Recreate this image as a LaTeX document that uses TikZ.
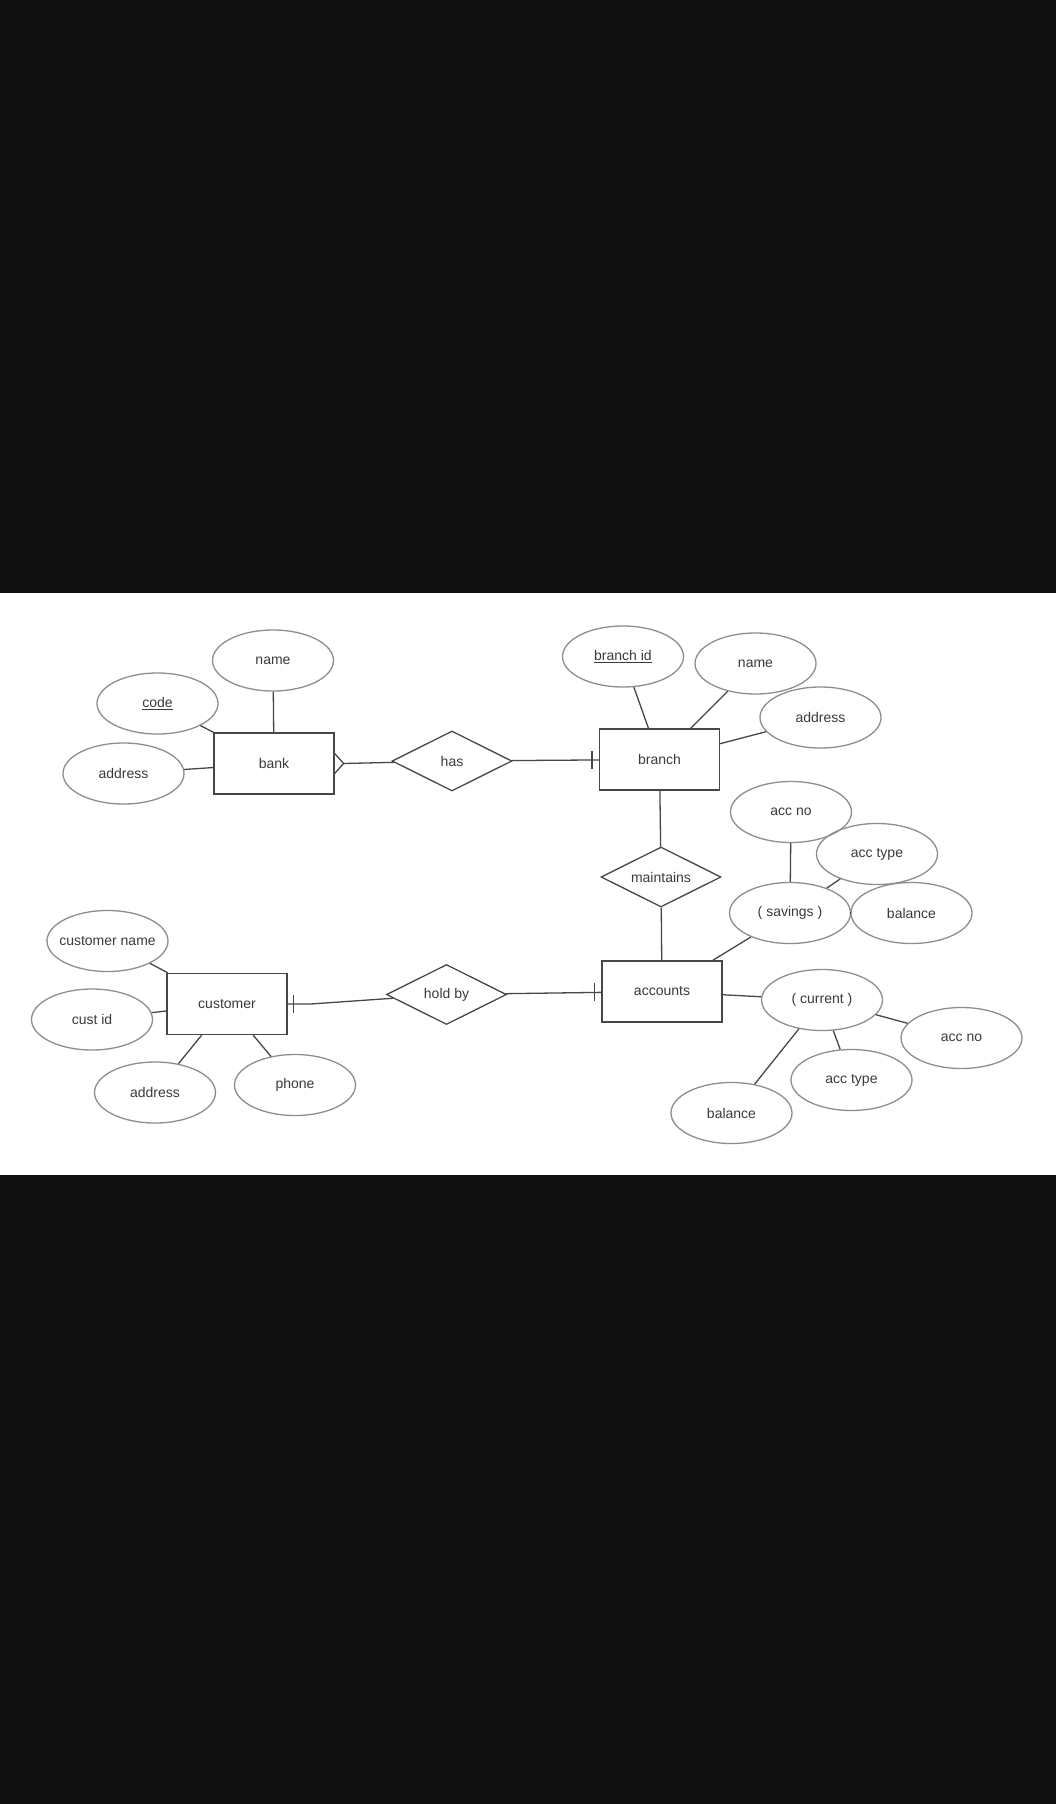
\documentclass[tikz,border=0pt]{standalone}
\usepackage{fontspec}
\setsansfont{Liberation Sans}
\usetikzlibrary{positioning, shapes.geometric, calc}
\definecolor{backdrop}{HTML}{0f0f0f}
\definecolor{ink}{HTML}{3a3a3a}
\definecolor{rim}{HTML}{8e8e8e}
\definecolor{wire}{HTML}{474747}

\tikzset{
  entity/.style={rectangle, draw=wire, line width=1.3pt, minimum width=120, minimum height=61, inner sep=0},
  attr/.style={ellipse, draw=rim, line width=1.3pt, minimum width=121, minimum height=61, inner sep=0},
  rel/.style={diamond, draw=wire, line width=1.3pt, minimum width=120, minimum height=60, aspect=2, inner sep=0},
  link/.style={draw=wire, line width=1.3pt}
}

\begin{document}
\begin{tikzpicture}[x=1pt, y=-1pt, font=\sffamily\fontsize{14}{16}\selectfont, text=ink]
  % page and white sheet
  \fill[backdrop] (0,0) rectangle (1056,1804);
  \fill[white] (0,593) rectangle (1056,1175);
  \useasboundingbox (0,0) rectangle (1056,1804);

  % bank
  \node[entity] (bank) at (274,763.5) {bank};
  \node[attr] (bankname) at (273,660.5) {name};
  \node[attr] (bankcode) at (157.5,703.5) {\underline{code}};
  \node[attr] (bankaddr) at (123.5,773.5) {address};
  \node[rel] (has) at (452,761) {has};

  % branch
  \node[entity] (branch) at (659.5,759.5) {branch};
  \node[attr] (branchid) at (623,656.5) {\underline{branch id}};
  \node[attr] (branchname) at (755.5,663.5) {name};
  \node[attr] (branchaddr) at (820.5,717.5) {address};
  \node[rel] (maintains) at (661,877) {maintains};

  % accounts
  \node[entity] (accounts) at (662,991.5) {accounts};
  \node[attr] (savings) at (790,913) {( savings )};
  \node[attr] (savaccno) at (791,812) {acc no};
  \node[attr] (savacctype) at (877,854) {acc type};
  \node[attr] (savbalance) at (911.5,913) {balance};
  \node[attr] (current) at (822,1000) {( current )};
  \node[attr] (curaccno) at (961.5,1038) {acc no};
  \node[attr] (curacctype) at (851.5,1080) {acc type};
  \node[attr] (curbalance) at (731.5,1113) {balance};

  % customer
  \node[entity] (customer) at (227,1004) {customer};
  \node[attr, inner xsep=-7pt] (custname) at (107.5,941) {customer name};
  \node[attr] (custid) at (92,1019.5) {cust id};
  \node[attr] (custaddr) at (155,1092.5) {address};
  \node[attr] (phone) at (295,1085) {phone};
  \node[rel] (holdby) at (446.5,994.5) {hold by};

  % attribute links
  \draw[link] (bankname) -- (bank);
  \draw[link] (bankcode) -- (bank);
  \draw[link] (bankaddr) -- (bank);
  \draw[link] (branchid) -- (branch);
  \draw[link] (branchname) -- (branch);
  \draw[link] (branchaddr) -- (branch);
  \draw[link] (savings) -- (accounts);
  \draw[link] (savaccno) -- (savings);
  \draw[link] (savacctype) -- (savings);
  \draw[link] (savbalance) -- (savings);
  \draw[link] (current) -- (accounts);
  \draw[link] (curaccno) -- (current);
  \draw[link] (curacctype) -- (current);
  \draw[link] (curbalance) -- (current);
  \draw[link] (custname) -- (customer);
  \draw[link] (custid) -- (customer);
  \draw[link] (custaddr) -- (customer);
  \draw[link] (phone) -- (customer);

  % bank -< has -| branch
  \coordinate (bankfoot) at ([xshift=9]bank.east);
  \draw[link] ([yshift=10]bank.east) -- (bankfoot) -- ([yshift=-10]bank.east);
  \draw[link] (bankfoot) -- (has);
  \draw[link] (has) -- (branch);
  \draw[link] ([xshift=-7,yshift=9]branch.west) -- ([xshift=-7,yshift=-9]branch.west);

  % branch - maintains - accounts
  \draw[link] (branch) -- (maintains);
  \draw[link] (maintains) -- (accounts);

  % customer |- hold by -| accounts
  \coordinate (custbend) at ([xshift=23]customer.east);
  \draw[link] (customer.east) -- (custbend) -- (holdby);
  \draw[link] ([xshift=6,yshift=9]customer.east) -- ([xshift=6,yshift=-9]customer.east);
  \draw[link] (holdby) -- (accounts);
  \draw[link] ([xshift=-7,yshift=9]accounts.west) -- ([xshift=-7,yshift=-9]accounts.west);
\end{tikzpicture}
\end{document}
